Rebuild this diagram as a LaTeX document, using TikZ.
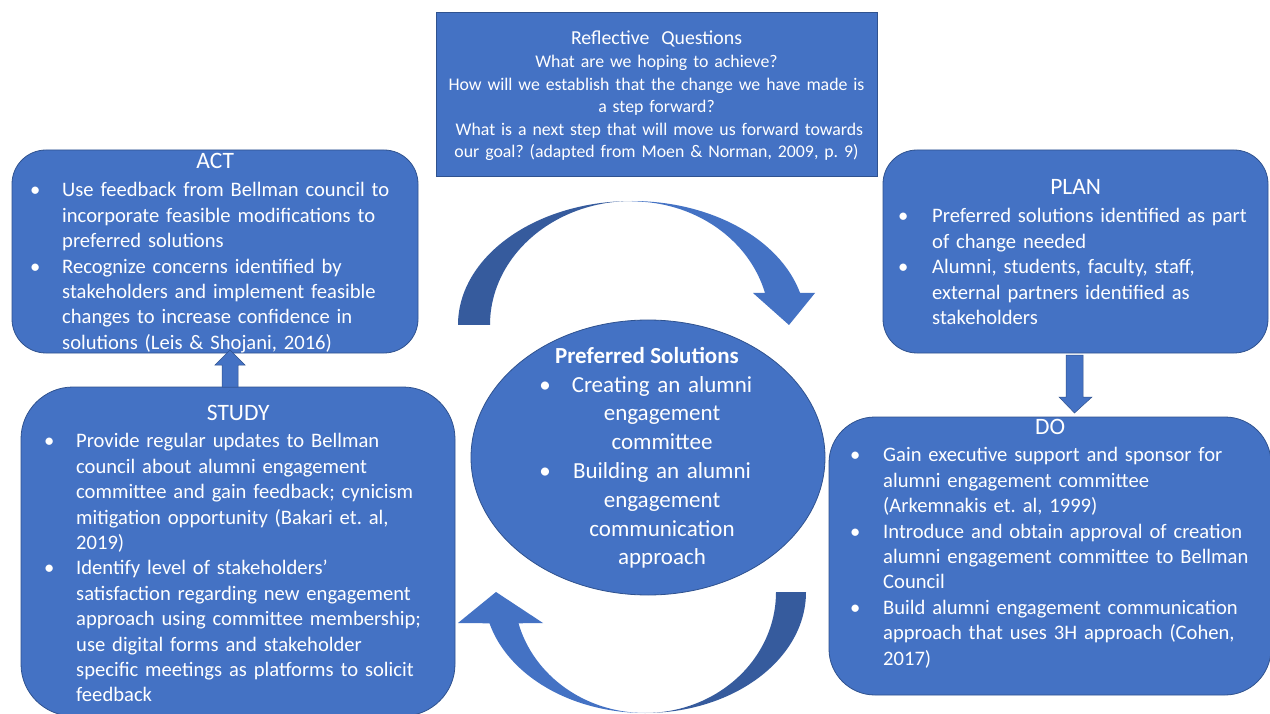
\documentclass[tikz,border=0pt]{standalone}
\usepackage{fontspec}
\setmainfont{Carlito}
\usetikzlibrary{shapes.geometric}
\frenchspacing

\definecolor{boxfill}{HTML}{4472C4}
\definecolor{boxline}{HTML}{2F528F}
\definecolor{backfill}{HTML}{365B9D}

% bullet paragraph: #1 offset of the bullet, #2 hanging indent of the text
\newcommand{\bitem}[3]{\par\hangindent=#2\hangafter=1\noindent\hbox to #2{\hskip#1\textbullet\hfil}#3\par}
\newcommand{\boxtitle}[1]{{\centering\fontsize{23.5}{25.4}\selectfont #1\par}\vskip2.5pt}

\tikzset{
  panel/.style={draw=boxline, line width=0.8pt, fill=boxfill, inner sep=0pt},
  cardtext/.style={text=white, inner sep=0pt, anchor=base west, align=left,
    font=\fontsize{20.6}{25.4}\selectfont},
  blockarrow/.style={fill=boxfill, draw=boxline, line width=0.5pt},
}

\begin{document}
\begin{tikzpicture}[x=1pt, y=-1pt]
\useasboundingbox[fill=white] (0,0) rectangle (1270,714);

% central ellipse
\node[panel, ellipse, minimum width=354pt, minimum height=275pt] (sol) at (648,457.5) {};

% curved arrow, top: shaded back half and front half with head
\fill[backfill] (458,325) arc[start angle=180, end angle=270, x radius=174, y radius=124]
  arc[start angle=270, end angle=180, x radius=142, y radius=124] -- cycle;
\fill[boxfill] (632,201) arc[start angle=270, end angle=345, x radius=174, y radius=124]
  -- (815,293) -- (789,325) -- (753,293) -- (765,293)
  arc[start angle=345, end angle=270, x radius=137.7, y radius=123.6] -- cycle;

% curved arrow, bottom
\fill[backfill] (806,592) arc[start angle=0, end angle=90, x radius=161, y radius=121]
  arc[start angle=90, end angle=0, x radius=131, y radius=121] -- cycle;
\fill[boxfill] (645,713) arc[start angle=90, end angle=165, x radius=161, y radius=121]
  -- (458,623) -- (496,592) -- (543,623) -- (518.5,623.3)
  arc[start angle=165, end angle=90, x radius=131, y radius=121] -- cycle;

% panels
\node[panel, minimum width=441pt, minimum height=164pt] (refl) at (656.5,94) {};
\node[panel, rounded corners=34pt, minimum width=406pt, minimum height=203pt] (act) at (215,251.5) {};
\node[panel, rounded corners=34pt, minimum width=385pt, minimum height=203pt] (plan) at (1075.5,251.5) {};
\node[panel, rounded corners=52pt, minimum width=434pt, minimum height=329pt] (study) at (238,551.5) {};
\node[panel, rounded corners=46pt, minimum width=442pt, minimum height=278pt] (do) at (1050,556) {};

% straight block arrows
\filldraw[blockarrow] (222,387) -- (222,365) -- (215,365) -- (230,350) -- (245,365) -- (238,365) -- (238,387) -- cycle;
\filldraw[blockarrow] (1066,355) -- (1083,355) -- (1083,397) -- (1092,397) -- (1074.5,413) -- (1059,397) -- (1066,397) -- cycle;

% reflective questions
\node[text=white, inner sep=0pt, anchor=base, align=center, text width=441pt,
  font=\fontsize{17.8}{22.6}\selectfont] (refltext) at (656.5,45)
  {{\fontsize{19.8}{22.6}\selectfont Reflective\ \ Questions}\\
   What are we hoping to achieve?\\
   How will we establish that the change we have made is\\
   a step forward?\\
   \ What is a next step that will move us forward towards\\
   our goal? (adapted from Moen \& Norman, 2009, p. 9)};

% ACT
\node[cardtext, text width=406pt] (acttext) at (12,169) {\boxtitle{ACT}%
  \bitem{18pt}{50pt}{Use feedback from Bellman council to\newline incorporate feasible modifications to\newline preferred solutions}%
  \bitem{18pt}{50pt}{Recognize concerns identified by\newline stakeholders and implement feasible\newline changes to increase confidence in\newline solutions (Leis \& Shojani, 2016)}};

% PLAN
\node[cardtext, text width=385pt] (plantext) at (883,195) {\boxtitle{PLAN}%
  \bitem{15pt}{49pt}{Preferred solutions identified as part\newline of change needed}%
  \bitem{15pt}{49pt}{Alumni, students, faculty, staff,\newline external partners identified as\newline stakeholders}};

% STUDY
\node[cardtext, text width=434pt] (studytext) at (21,420) {\boxtitle{STUDY}%
  \bitem{23pt}{55pt}{Provide regular updates to Bellman\newline council about alumni engagement\newline committee and gain feedback; cynicism\newline mitigation opportunity (Bakari et. al,\newline 2019)}%
  \bitem{23pt}{55pt}{Identify level of stakeholders’\newline satisfaction regarding new engagement\newline approach using committee membership;\newline use digital forms and stakeholder\newline specific meetings as platforms to solicit\newline feedback}};

% DO
\node[cardtext, text width=442pt] (dotext) at (829,434) {\boxtitle{DO}%
  \bitem{21pt}{54pt}{Gain executive support and sponsor for\newline alumni engagement committee\newline (Arkemnakis et. al, 1999)}%
  \bitem{21pt}{54pt}{Introduce and obtain approval of creation\newline alumni engagement committee to Bellman\newline Council}%
  \bitem{21pt}{54pt}{Build alumni engagement communication\newline approach that uses 3H approach (Cohen,\newline 2017)}};

% preferred solutions inside the ellipse
\node[text=white, inner sep=0pt, anchor=base, font=\fontsize{23}{28.8}\selectfont\bfseries]
  (soltitle) at (647,363) {Preferred Solutions};
\node[text=white, inner sep=0pt, anchor=base, align=center, text width=240pt,
  font=\fontsize{23}{28.8}\selectfont]
  (sollines) at (662,392) {Creating an alumni\\engagement\\committee\\Building an alumni\\engagement\\communication\\approach};
\node[text=white, inner sep=0pt, anchor=base, font=\fontsize{23}{28.8}\selectfont] (solbul1) at (545,392) {\textbullet};
\node[text=white, inner sep=0pt, anchor=base, font=\fontsize{23}{28.8}\selectfont] (solbul2) at (545,478.4) {\textbullet};
\end{tikzpicture}
\end{document}
